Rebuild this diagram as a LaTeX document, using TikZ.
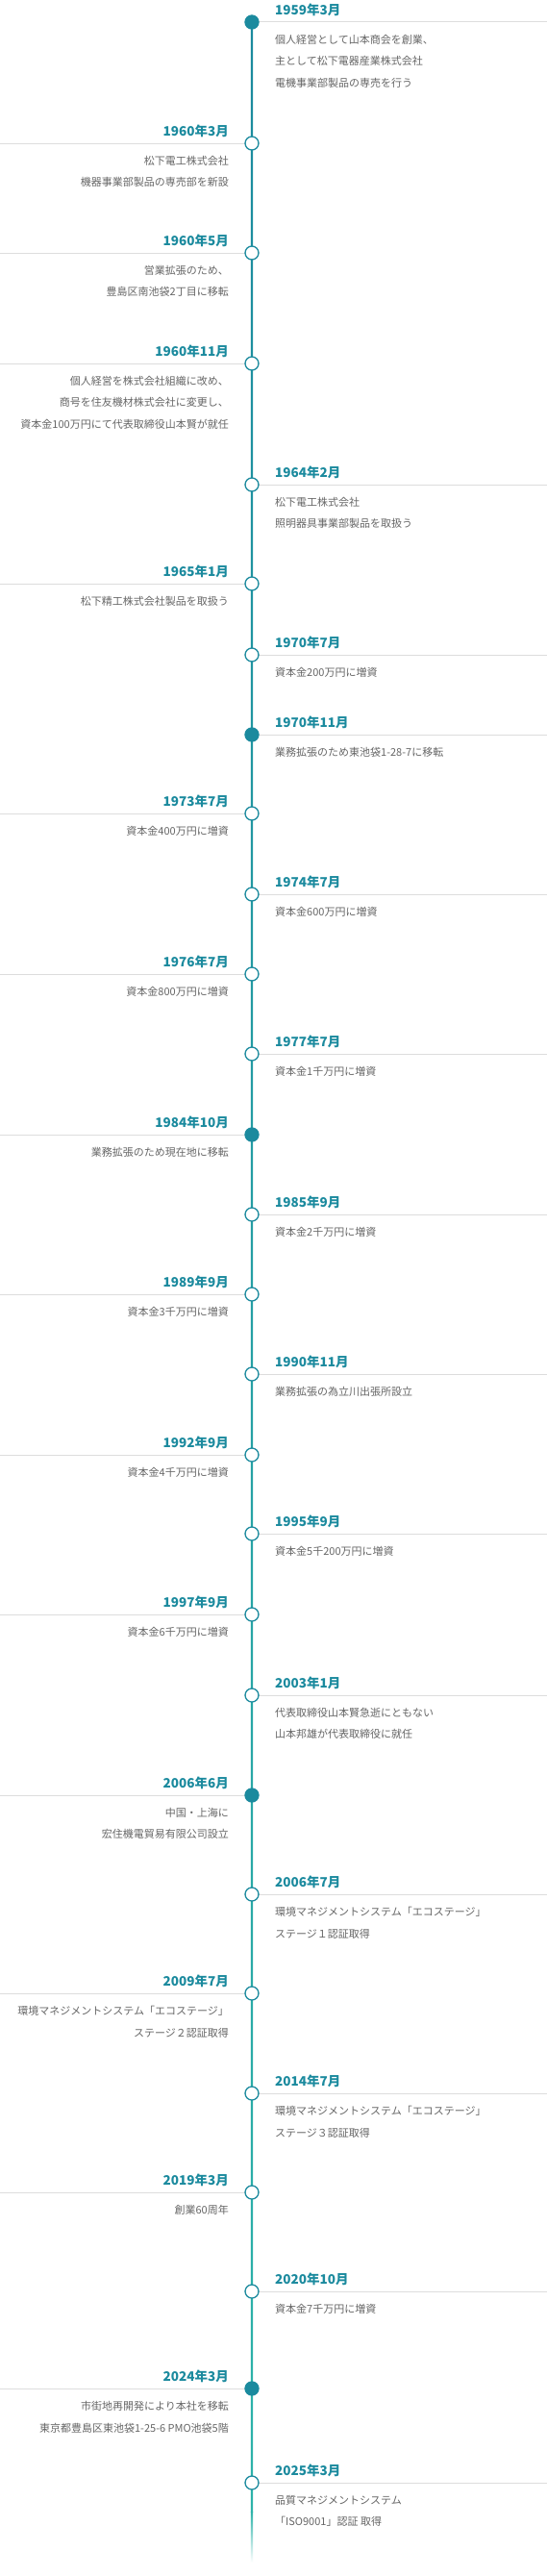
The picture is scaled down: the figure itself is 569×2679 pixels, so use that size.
\documentclass[tikz,border=0pt]{standalone}
\usepackage{fontspec}
\setmainfont{Noto Sans CJK JP}
\usetikzlibrary{positioning, calc}
\definecolor{tlA}{HTML}{1B8A9E}
\definecolor{tlB}{HTML}{2DB3A9}
\definecolor{txtgray}{HTML}{666666}
\definecolor{rulegray}{HTML}{DDDDDD}
\begin{document}
\begin{tikzpicture}[x=1pt, y=-1pt,
    ev/.style={circle, draw=tlA, line width=1.3pt, fill=white, minimum size=14pt, inner sep=0pt},
    evk/.style={ev, fill=tlA},
    rule/.style={draw=rulegray, line width=1pt},
    date/.style={text=tlA, inner sep=0pt, font=\fontsize{13.5}{16}\selectfont\bfseries},
    dateR/.style={anchor=west, xshift=24pt, yshift=13pt},
    dateL/.style={anchor=east, xshift=-24pt, yshift=13pt},
    txt/.style={text=txtgray, inner sep=0pt, font=\fontsize{11}{22.5}\selectfont},
    txtR/.style={anchor=north west, align=left, xshift=24pt, yshift=-13pt},
    txtL/.style={anchor=north east, align=right, xshift=-24pt, yshift=-13pt}]
  \fill[white] (0,0) rectangle (569,2679);
  \useasboundingbox (0,0) rectangle (569,2679);
  \coordinate (edgeL) at (0,0);
  \coordinate (edgeR) at (569,0);
  % spine
  \coordinate (top) at (262,23);
  \coordinate (fade) at (262,2612);
  \coordinate (tail) at (262,2665);
  \shade[top color=tlA, bottom color=tlB] ([xshift=-1.2pt]top) rectangle ([xshift=1.2pt]fade);
  \shade[top color=tlB, bottom color=white] ([xshift=-1.2pt]fade) rectangle ([xshift=1.2pt]tail);
  % events
  \foreach \n/\yy/\sd/\kd/\dt/\tx in {
      1/23/R/evk/1959年3月/{個人経営として山本商会を創業、\\主として松下電器産業株式会社\\電機事業部製品の専売を行う},
      2/149/L/ev/1960年3月/{松下電工株式会社\\機器事業部製品の専売部を新設},
      3/263/L/ev/1960年5月/{営業拡張のため、\\豊島区南池袋2丁目に移転},
      4/378/L/ev/1960年11月/{個人経営を株式会社組織に改め、\\商号を住友機材株式会社に変更し、\\資本金100万円にて代表取締役山本賢が就任},
      5/504/R/ev/1964年2月/{松下電工株式会社\\照明器具事業部製品を取扱う},
      6/607/L/ev/1965年1月/{松下精工株式会社製品を取扱う},
      7/681/R/ev/1970年7月/{資本金200万円に増資},
      8/764/R/evk/1970年11月/{業務拡張のため東池袋1-28-7に移転},
      9/846/L/ev/1973年7月/{資本金400万円に増資},
      10/930/R/ev/1974年7月/{資本金600万円に増資},
      11/1013/L/ev/1976年7月/{資本金800万円に増資},
      12/1096/R/ev/1977年7月/{資本金1千万円に増資},
      13/1180/L/evk/1984年10月/{業務拡張のため現在地に移転},
      14/1263/R/ev/1985年9月/{資本金2千万円に増資},
      15/1346/L/ev/1989年9月/{資本金3千万円に増資},
      16/1429/R/ev/1990年11月/{業務拡張の為立川出張所設立},
      17/1513/L/ev/1992年9月/{資本金4千万円に増資},
      18/1595/R/ev/1995年9月/{資本金5千200万円に増資},
      19/1679/L/ev/1997年9月/{資本金6千万円に増資},
      20/1763/R/ev/2003年1月/{代表取締役山本賢急逝にともない\\山本邦雄が代表取締役に就任},
      21/1867/L/evk/2006年6月/{中国・上海に\\宏住機電貿易有限公司設立},
      22/1970/R/ev/2006年7月/{環境マネジメントシステム「エコステージ」\\ステージ１認証取得},
      23/2073/L/ev/2009年7月/{環境マネジメントシステム「エコステージ」\\ステージ２認証取得},
      24/2177/R/ev/2014年7月/{環境マネジメントシステム「エコステージ」\\ステージ３認証取得},
      25/2280/L/ev/2019年3月/{創業60周年},
      26/2383/R/ev/2020年10月/{資本金7千万円に増資},
      27/2484/L/evk/2024年3月/{市街地再開発により本社を移転\\東京都豊島区東池袋1-25-6 PMO池袋5階},
      28/2582/R/ev/2025年3月/{品質マネジメントシステム\\「ISO9001」認証 取得}} {
    \coordinate (p\n) at (262,\yy);
    \draw[rule] (p\n) -- (p\n -| edge\sd);
    \node[\kd] (e\n) at (p\n) {};
    \node[date, date\sd] (d\n) at (e\n) {\dt};
    \node[txt, txt\sd] (t\n) at (e\n) {\tx};
  }
\end{tikzpicture}
\end{document}
